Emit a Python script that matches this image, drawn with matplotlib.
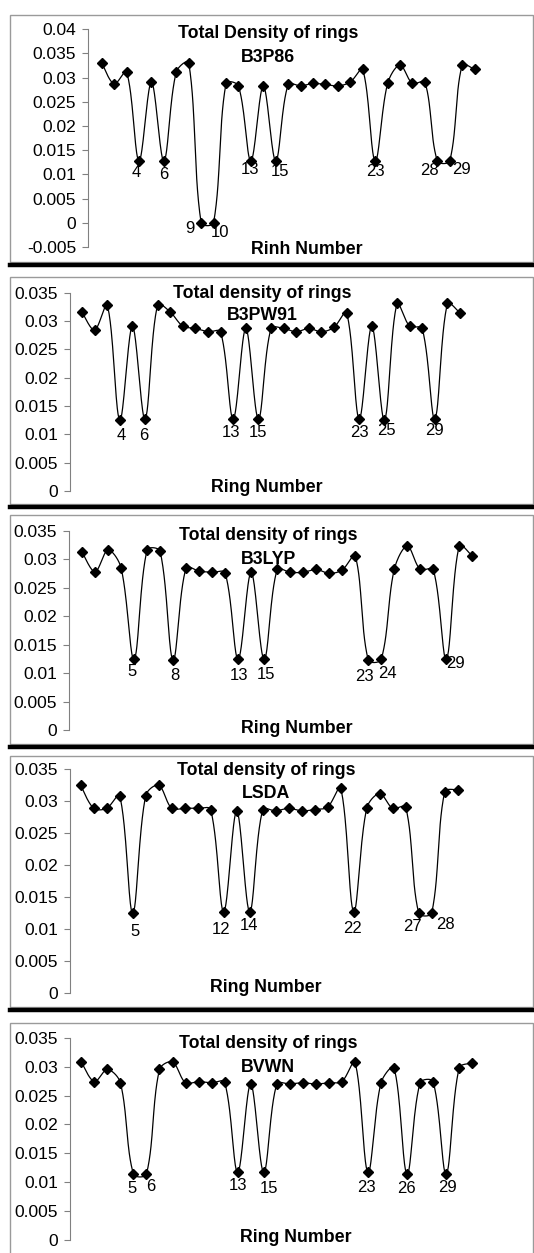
import numpy as np
import matplotlib
matplotlib.use("Agg")
import matplotlib.pyplot as plt
from matplotlib.patches import Rectangle
from matplotlib.lines import Line2D

plt.rcParams['font.family'] = ['Liberation Sans', 'DejaVu Sans']

# ---------------- data ----------------
methods = ["B3P86", "B3PW91", "B3LYP", "LSDA", "BVWN"]
titles = ["Total Density of rings", "Total density of rings", "Total density of rings",
          "Total density of rings", "Total density of rings"]
xlabels = ["Rinh Number", "Ring Number", "Ring Number", "Ring Number", "Ring Number"]

b3p86 = [0.0331, 0.0287, 0.0312, 0.0128, 0.0291, 0.0128, 0.0312, 0.0331, 0.0000, 0.0000,
         0.0288, 0.0283, 0.0128, 0.0283, 0.0128, 0.0286, 0.0283, 0.0288, 0.0286, 0.0283,
         0.0291, 0.0317, 0.0128, 0.0288, 0.0326, 0.0288, 0.0291, 0.0128, 0.0128, 0.0326,
         0.0317]
b3pw91 = [0.0316, 0.0284, 0.0329, 0.0125, 0.0291, 0.0127, 0.0329, 0.0316, 0.0291, 0.0287,
          0.0281, 0.0281, 0.0127, 0.0287, 0.0127, 0.0287, 0.0287, 0.0281, 0.0287, 0.0281,
          0.0289, 0.0315, 0.0127, 0.0291, 0.0125, 0.0331, 0.0291, 0.0287, 0.0127, 0.0331,
          0.0314]
b3lyp = [0.0313, 0.0278, 0.0316, 0.0285, 0.0124, 0.0316, 0.0314, 0.0123, 0.0285, 0.0279,
         0.0277, 0.0276, 0.0124, 0.0277, 0.0124, 0.0282, 0.0277, 0.0277, 0.0282, 0.0275,
         0.0281, 0.0306, 0.0123, 0.0124, 0.0282, 0.0323, 0.0282, 0.0282, 0.0124, 0.0324,
         0.0305]
lsda = [0.0325, 0.0289, 0.0289, 0.0309, 0.0125, 0.0309, 0.0325, 0.0289, 0.0289, 0.0289,
        0.0287, 0.0127, 0.0285, 0.0127, 0.0287, 0.0285, 0.0289, 0.0285, 0.0287, 0.0291,
        0.0321, 0.0127, 0.0289, 0.0312, 0.0289, 0.0291, 0.0125, 0.0125, 0.0315, 0.0318]
bvwn = [0.0308, 0.0274, 0.0295, 0.0272, 0.0114, 0.0114, 0.0295, 0.0308, 0.0272, 0.0274,
        0.0272, 0.0273, 0.0117, 0.0270, 0.0117, 0.0270, 0.0270, 0.0272, 0.0270, 0.0272,
        0.0274, 0.0308, 0.0117, 0.0272, 0.0298, 0.0114, 0.0272, 0.0274, 0.0114, 0.0298,
        0.0306]
series = [b3p86, b3pw91, b3lyp, lsda, bvwn]

# labelled minima (ring numbers)
labels_b3p86 = [4, 6, 9, 10, 13, 15, 23, 28, 29]
labels_b3pw91 = [4, 6, 13, 15, 23, 25, 29]
labels_b3lyp = [5, 8, 13, 15, 23, 24, 29]
labels_lsda = [5, 12, 14, 22, 27, 28]
labels_bvwn = [5, 6, 13, 15, 23, 26, 29]
point_labels = [labels_b3p86, labels_b3pw91, labels_b3lyp, labels_lsda, labels_bvwn]

yticks_1 = [-0.005, 0, 0.005, 0.01, 0.015, 0.02, 0.025, 0.03, 0.035, 0.04]
yticklabels_1 = ["-0.005", "0", "0.005", "0.01", "0.015", "0.02", "0.025", "0.03", "0.035", "0.04"]
yticks_n = [0, 0.005, 0.01, 0.015, 0.02, 0.025, 0.03, 0.035]
yticklabels_n = ["0", "0.005", "0.01", "0.015", "0.02", "0.025", "0.03", "0.035"]
ylims = [(-0.005, 0.04), (0, 0.035), (0, 0.035), (0, 0.035), (0, 0.035)]

# ---------------- layout (pixels) ----------------
W, H = 534, 1253
# axis x, first point x, spacing, top px, bottom px
geom = [(88, 101.7, 12.43, 29.3, 247.0),
        (70, 82.0, 12.6, 292.7, 491.0),
        (69, 82.0, 13.01, 530.7, 730.0),
        (70, 80.7, 13.0, 769.3, 993.0),
        (70, 81.3, 13.03, 1037.7, 1240.0)]
frames = [(15, 262), (277, 504), (515, 744), (756, 1007), (1023, 1262)]
title_pos = [(268, 34, 57), (262, 293, 315), (268, 535.5, 559), (266, 770.5, 793), (268, 1044, 1067)]
xlabel_pos = [(307, 249), (267, 488), (297, 729), (266, 988), (296, 1238)]
label_offsets = [
    [(-3, 12), (0, 14), (-11, 6), (6, 10), (-1, 9), (4, 11), (0, 11), (-8, 10), (12, 9)],
    [(1, 15), (-1, 16), (-2, 13), (0, 13), (0, 13), (2, 10), (0, 11)],
    [(-2, 12), (2, 16), (1, 16), (2, 15), (-4, 17), (6, 14), (9, 4)],
    [(2, 18), (-3, 18), (-1, 14), (-1, 17), (-6, 13), (14, 11)],
    [(-1, 14), (4, 12), (0, 13), (5, 16), (-2, 15), (-1, 14), (1, 13)],
]

AX_RIGHT = 525


def smooth(xs, ys, xscale, yscale, n=30):
    """Excel-like smoothed line: Bezier segments with chord-weighted tangents in screen space."""
    P = np.column_stack([np.asarray(xs, float) * xscale, np.asarray(ys, float) * yscale])
    N = len(P)
    d = np.hypot(*(P[1:] - P[:-1]).T)
    out = [P[:1]]
    t = np.linspace(0, 1, n)[1:, None]
    f = 1.0 / 3.0
    for i in range(N - 1):
        p1, p2 = P[i], P[i + 1]
        if i == 0:
            b1 = p1 + (p2 - p1) * f * 0.5
        else:
            T = P[i + 1] - P[i - 1]
            b1 = p1 + T * d[i] / (d[i - 1] + d[i]) * f
        if i + 1 == N - 1:
            b2 = p2 - (p2 - p1) * f * 0.5
        else:
            T = P[i + 2] - P[i]
            b2 = p2 - T * d[i] / (d[i] + d[i + 1]) * f
        seg = ((1 - t) ** 3) * p1 + 3 * ((1 - t) ** 2) * t * b1 + 3 * (1 - t) * t ** 2 * b2 + t ** 3 * p2
        out.append(seg)
    out = np.vstack(out)
    return out[:, 0] / xscale, out[:, 1] / yscale


fig = plt.figure(figsize=(W / 100, H / 100), dpi=100)


def fx(px):
    return px / W


def fy(py):
    return 1 - py / H


# frames
for (top, bot) in frames:
    fig.add_artist(Rectangle((fx(10), fy(bot)), fx(533) - fx(10), fy(top) - fy(bot),
                             transform=fig.transFigure, fill=False,
                             edgecolor='#9a9a9a', linewidth=1.0, zorder=0))
    if bot < H:
        fig.add_artist(Line2D([fx(10), fx(534)], [fy(bot + 3), fy(bot + 3)],
                              transform=fig.transFigure, color='black', linewidth=3.2))

for k in range(5):
    axx, first, sp, top, bot = geom[k]
    ax = fig.add_axes([fx(axx), fy(bot), fx(AX_RIGHT) - fx(axx), fy(top) - fy(bot)])
    ax.patch.set_alpha(0)
    ys = series[k]
    xs = np.arange(1, len(ys) + 1)
    L = 1 - (first - axx) / sp
    R = L + (AX_RIGHT - axx) / sp
    ax.set_xlim(L, R)
    ax.set_ylim(*ylims[k])
    yscale = (bot - top) / (ylims[k][1] - ylims[k][0])
    sx, sy = smooth(xs, ys, sp, yscale)
    ax.plot(sx, sy, color='black', linewidth=0.9, clip_on=False)
    ax.plot(xs, ys, linestyle='none', marker='D', markersize=5.4, color='black', clip_on=False)
    for spn in ['top', 'right', 'bottom']:
        ax.spines[spn].set_visible(False)
    ax.spines['left'].set_color('#808080')
    ax.spines['left'].set_linewidth(0.8)
    ax.set_xticks([])
    if k == 0:
        ax.set_yticks(yticks_1)
        ax.set_yticklabels(yticklabels_1)
    else:
        ax.set_yticks(yticks_n)
        ax.set_yticklabels(yticklabels_n)
    ax.tick_params(axis='y', direction='out', length=4.5, width=0.8, color='#808080',
                   labelsize=12.5, pad=4)
    for lab, (dx, dy) in zip(point_labels[k], label_offsets[k]):
        ax.annotate(str(lab), (lab, ys[lab - 1]), xytext=(dx, -dy), textcoords='offset pixels',
                    ha='center', va='center', fontsize=12)
    cx, y1, y2 = title_pos[k]
    fig.text(fx(cx), fy(y1), titles[k], ha='center', va='center', fontsize=12.8, fontweight='bold')
    fig.text(fx(cx), fy(y2), methods[k], ha='center', va='center', fontsize=12.8, fontweight='bold')
    lx, ly = xlabel_pos[k]
    fig.text(fx(lx), fy(ly), xlabels[k], ha='center', va='center', fontsize=12.8, fontweight='bold')

fig.savefig("out.png", dpi=100)
